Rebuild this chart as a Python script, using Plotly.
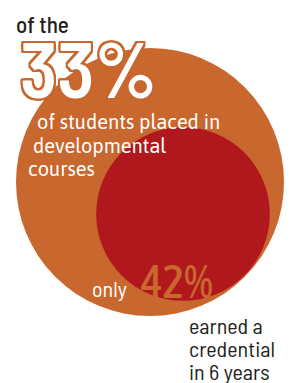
import plotly.graph_objects as go
import math

# Data
labels = ["placed in developmental courses", "earned a credential in 6 years"]
shares = [33, 42]  # percent
headline_texts = ["of the", "33%", "of students placed in", "developmental", "courses"]
result_texts = ["only", "42%", "earned a", "credential", "in 6 years"]

ORANGE = "#C8672E"
RED = "#B1181E"
DARK = "#231F20"
FONT = "'Barlow Semi Condensed', 'DejaVu Sans Condensed', sans-serif"
FONT_BODY = "'Asap', 'Barlow', 'DejaVu Sans Condensed', sans-serif"
FONT_NUM = "'Asap Condensed', 'DejaVu Sans Condensed', sans-serif"

W, H = 294, 383
fig = go.Figure()

R = 134
cx, cy = 150, 182
r = R * math.sqrt(shares[1] / 100)
icx, icy = 183, 214

fig.add_shape(type="circle", xref="x", yref="y", x0=cx - R, x1=cx + R, y0=cy - R, y1=cy + R,
              fillcolor=ORANGE, line=dict(width=0), layer="below")
fig.add_shape(type="circle", xref="x", yref="y", x0=icx - r, x1=icx + r, y0=icy - r, y1=icy + r,
              fillcolor=RED, line=dict(width=0), layer="below")

outline = ", ".join(f"{dx}px {dy}px 0 {ORANGE}" for dx in (-2, -1, 0, 1, 2) for dy in (-2, -1, 0, 1, 2) if (dx, dy) != (0, 0))

def ann(text, x, base, size, color, family=FONT, weight=None, shadow=None):
    f = dict(family=family, size=size, color=color)
    if weight:
        f["weight"] = weight
    if shadow:
        f["shadow"] = shadow
    fig.add_annotation(text=text, x=x / W, y=1 - (base + 0.3 * size) / H, xref="paper", yref="paper",
                       showarrow=False, xanchor="left", yanchor="bottom", font=f, borderpad=0)

ann(headline_texts[0], 15, 32, 23, DARK, weight=500)
ann(headline_texts[1], 19, 92, 78, "white", weight=600, shadow=outline)
ann(headline_texts[2], 36, 128, 20, "white", family=FONT_BODY)
ann(headline_texts[3], 32, 152, 20, "white", family=FONT_BODY)
ann(headline_texts[4], 27, 175, 20, "white", family=FONT_BODY)

ann(result_texts[0], 91, 295, 22, "white")
ann(result_texts[1], 139, 295, 46, ORANGE, family=FONT_NUM, weight=500)
ann(result_texts[2], 188, 332, 22, DARK)
ann(result_texts[3], 188, 355, 22, DARK)
ann(result_texts[4], 188, 378, 22, DARK)

fig.update_layout(width=W, height=H, margin=dict(l=0, r=0, t=0, b=0),
                  paper_bgcolor="white", plot_bgcolor="white", showlegend=False,
                  xaxis=dict(range=[0, W], visible=False, fixedrange=True),
                  yaxis=dict(range=[H, 0], visible=False, fixedrange=True))
fig.write_html("out.html", config={"displayModeBar": False},
               post_script="document.body.style.margin='0';document.body.style.overflow='hidden';")
